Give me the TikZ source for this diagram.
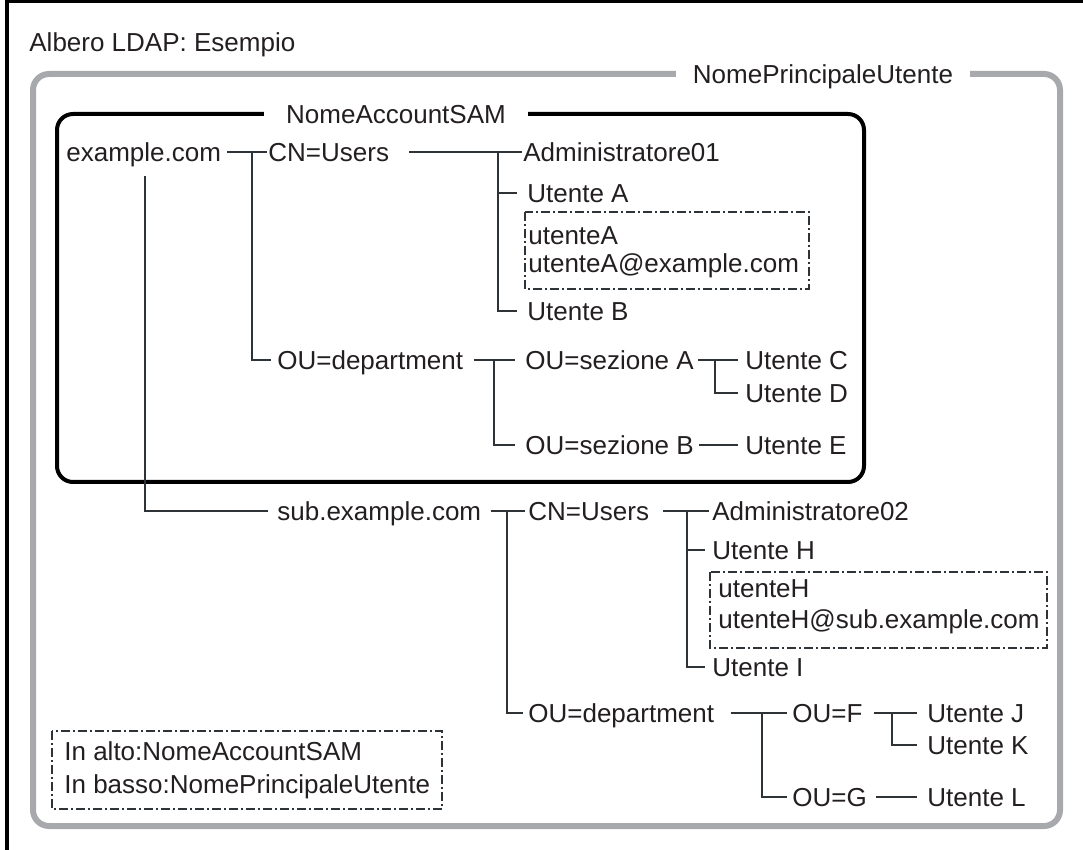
\documentclass[tikz,border=0pt]{standalone}
\usepackage{fontspec}
\setmainfont{Liberation Sans}
\usetikzlibrary{calc}
\definecolor{ink}{HTML}{231F20}
\definecolor{lineink}{HTML}{2E3338}
\definecolor{framegray}{HTML}{A7A9AC}
\begin{document}
\begin{tikzpicture}[x=0.5pt,y=-0.5pt,
  lbl/.style={inner sep=0pt, anchor=west, text height=9.31pt, text depth=0pt,
              font=\fontsize{13}{15.5}\selectfont, text=ink},
  framelbl/.style={inner ysep=1pt, fill=white, text height=9.31pt, text depth=0pt,
              font=\fontsize{13}{15.5}\selectfont, text=ink},
  tree/.style={draw=lineink, line width=0.65pt},
  dashbox/.style={draw=lineink, line width=0.55pt,
              dash pattern=on 4.5pt off 1.6pt on 0.8pt off 1.6pt},
]
\useasboundingbox (0,0) rectangle (1083,850);
% outer page border (top and left)
\draw[line width=1.7pt, black] (6.8,850) -- (6.8,1.7) -- (1083,1.7);

\node[lbl] (title) at (29,42) {Albero LDAP: Esempio};

% gray frame: NomePrincipaleUtente
\draw[framegray, line width=3pt, rounded corners=8pt] (33,74) rectangle (1060,826);
\node[framelbl, inner xsep=8.5pt] (upn) at (823,74) {NomePrincipaleUtente};

% black frame: NomeAccountSAM
\draw[black, line width=2pt, rounded corners=8pt] (57,114) rectangle (864,482);
\node[framelbl, inner xsep=11pt] (sam) at (396,114) {NomeAccountSAM};

% ---------- upper tree ----------
\node[lbl] (ex)   at (66,152)  {example.com};
\node[lbl] (cn1)  at (268,152) {CN=Users};
\node[lbl] (adm1) at (523,152) {Administratore01};
\node[lbl] (uA)   at (527,193) {Utente A};
\draw[dashbox] (525,212) rectangle (809,289);
\node[lbl] (uAs)  at (528,235) {utenteA};
\node[lbl] (uAp)  at (528,263) {utenteA@example.com};
\node[lbl] (uB)   at (527,311) {Utente B};
\node[lbl] (dep1) at (277,360) {OU=department};
\node[lbl] (secA) at (525,360) {OU=sezione A};
\node[lbl] (uC)   at (745,360) {Utente C};
\node[lbl] (uD)   at (745,393) {Utente D};
\node[lbl] (secB) at (525,445) {OU=sezione B};
\node[lbl] (uE)   at (745,445) {Utente E};

\coordinate (j1) at (252,152);
\coordinate (j2) at (498,152);
\coordinate (j3) at (494,360);
\coordinate (j4) at (715,360);
\coordinate (j0) at (145,176);

\draw[tree] ($(ex.east)+(6,0)$) -- ($(cn1.west)+(-1,0)$);
\draw[tree] (j1) |- ($(dep1.west)+(-6,0)$);
\draw[tree] ($(cn1.east)+(20,0)$) -- ($(adm1.west)+(-1,0)$);
\draw[tree] (j2) |- ($(uB.west)+(-10,0)$);
\draw[tree] (j2 |- uA.west) -- ($(uA.west)+(-10,0)$);
\draw[tree] ($(dep1.east)+(10,0)$) -- ($(secA.west)+(-10,0)$);
\draw[tree] (j3) |- ($(secB.west)+(-10,0)$);
\draw[tree] ($(secA.east)+(4,0)$) -- ($(uC.west)+(-7,0)$);
\draw[tree] (j4) |- ($(uD.west)+(-7,0)$);
\draw[tree] ($(secB.east)+(5,0)$) -- ($(uE.west)+(-7,0)$);

% ---------- lower tree ----------
\node[lbl] (sub)  at (277,511) {sub.example.com};
\node[lbl] (cn2)  at (528,511) {CN=Users};
\node[lbl] (adm2) at (712,511) {Administratore02};
\node[lbl] (uH)   at (712,550) {Utente H};
\draw[dashbox] (710,572) rectangle (1047,648);
\node[lbl] (uHs)  at (718,588) {utenteH};
\node[lbl] (uHp)  at (718,619) {utenteH@sub.example.com};
\node[lbl] (uI)   at (712,667) {Utente I};
\node[lbl] (dep2) at (528,713) {OU=department};
\node[lbl] (ouF)  at (792,713) {OU=F};
\node[lbl] (uJ)   at (927,713) {Utente J};
\node[lbl] (uK)   at (927,745) {Utente K};
\node[lbl] (ouG)  at (792,797) {OU=G};
\node[lbl] (uL)   at (927,797) {Utente L};

\coordinate (k1) at (507,511);
\coordinate (k2) at (687,511);
\coordinate (k3) at (762,713);
\coordinate (k4) at (892,713);

\draw[tree] (j0) |- ($(sub.west)+(-9,0)$);
\draw[tree] ($(sub.east)+(9,0)$) -- ($(cn2.west)+(-3,0)$);
\draw[tree] (k1) |- ($(dep2.west)+(-5,0)$);
\draw[tree] ($(cn2.east)+(14,0)$) -- ($(adm2.west)+(-3,0)$);
\draw[tree] (k2 |- uH.west) -- ($(uH.west)+(-7,0)$);
\draw[tree] (k2) |- ($(uI.west)+(-7,0)$);
\draw[tree] ($(dep2.east)+(16,0)$) -- ($(ouF.west)+(-5,0)$);
\draw[tree] (k3) |- ($(ouG.west)+(-5,0)$);
\draw[tree] ($(ouF.east)+(11,0)$) -- ($(uJ.west)+(-10,0)$);
\draw[tree] (k4) |- ($(uK.west)+(-10,0)$);
\draw[tree] ($(ouG.east)+(9,0)$) -- ($(uL.west)+(-10,0)$);

% ---------- legend ----------
\draw[dashbox] (52,731) rectangle (442,809);
\node[lbl] (lg1) at (64,751) {In alto:NomeAccountSAM};
\node[lbl] (lg2) at (64,784) {In basso:NomePrincipaleUtente};
\end{tikzpicture}
\end{document}
